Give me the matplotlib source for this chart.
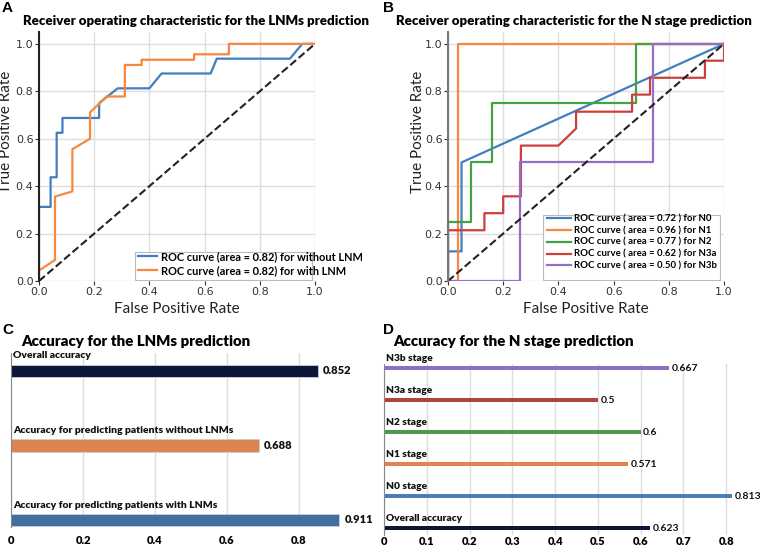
import matplotlib
matplotlib.use('Agg')
import matplotlib.pyplot as plt
from matplotlib.patches import Rectangle

# ---- panel A: ROC for LNMs prediction ----
fpr_without = [0, 0, 0.042, 0.042, 0.064, 0.064, 0.085, 0.085, 0.218, 0.218, 0.285, 0.40, 0.444, 0.622, 0.644, 0.909, 0.954, 1.0]
tpr_without = [0, 0.3125, 0.3125, 0.4375, 0.4375, 0.625, 0.625, 0.6875, 0.6875, 0.75, 0.8125, 0.8125, 0.875, 0.875, 0.9375, 0.9375, 1.0, 1.0]
fpr_with = [0, 0.058, 0.058, 0.121, 0.121, 0.185, 0.185, 0.245, 0.311, 0.311, 0.372, 0.372, 0.562, 0.562, 0.688, 0.688, 1.0]
tpr_with = [0.044, 0.089, 0.356, 0.378, 0.556, 0.60, 0.711, 0.778, 0.778, 0.911, 0.911, 0.933, 0.933, 0.956, 0.956, 1.0, 1.0]

# ---- panel B: ROC for N stage prediction ----
fpr_n0 = [0, 0, 0.049, 0.049, 1.0]
tpr_n0 = [0, 0.125, 0.125, 0.5, 1.0]
fpr_n1 = [0, 0.037, 0.037, 1.0]
tpr_n1 = [0, 0, 1.0, 1.0]
fpr_n2 = [0, 0, 0.082, 0.082, 0.16, 0.16, 0.68, 0.68, 1.0]
tpr_n2 = [0, 0.25, 0.25, 0.5, 0.5, 0.75, 0.75, 1.0, 1.0]
fpr_n3a = [0, 0, 0.132, 0.132, 0.2, 0.2, 0.264, 0.264, 0.40, 0.464, 0.464, 0.667, 0.667, 0.732, 0.732, 0.931, 0.931, 1.0, 1.0]
tpr_n3a = [0, 0.214, 0.214, 0.286, 0.286, 0.357, 0.357, 0.571, 0.571, 0.643, 0.714, 0.714, 0.786, 0.786, 0.857, 0.857, 0.929, 0.929, 1.0]
fpr_n3b = [0, 0.26, 0.26, 0.742, 0.742, 1.0]
tpr_n3b = [0, 0, 0.5, 0.5, 1.0, 1.0]
auc_b = [0.72, 0.96, 0.77, 0.62, 0.50]
stages_b = ['N0', 'N1', 'N2', 'N3a', 'N3b']

# ---- panel C: accuracy LNMs ----
acc_c_labels = ['Overall accuracy', 'Accuracy for predicting patients without LNMs', 'Accuracy for predicting patients with LNMs']
acc_c_values = [0.852, 0.688, 0.911]
acc_c_text = ['0.852', '0.688', '0.911']

# ---- panel D: accuracy N stage ----
acc_d_labels = ['N3b stage', 'N3a stage', 'N2 stage', 'N1 stage', 'N0 stage', 'Overall accuracy']
acc_d_values = [0.667, 0.5, 0.6, 0.571, 0.813, 0.623]
acc_d_text = ['0.667', '0.5', '0.6', '0.571', '0.813', '0.623']

W, H = 760, 549
fig = plt.figure(figsize=(W / 100, H / 100), dpi=100)

def px_axes(left, top, right, bottom):
    return fig.add_axes([left / W, 1 - bottom / H, (right - left) / W, (bottom - top) / H])

FONT = 'Lato'
GRID = '#dddddd'

def style_roc(ax, spine_color, ylab_x):
    ax.set_xlim(0, 1.0)
    ax.set_ylim(0, 1.05)
    ax.set_xticks([0, 0.2, 0.4, 0.6, 0.8, 1.0])
    ax.set_yticks([0, 0.2, 0.4, 0.6, 0.8, 1.0])
    ax.grid(True, color=GRID, lw=1)
    ax.set_axisbelow(True)
    for s in ['top', 'right', 'bottom']:
        ax.spines[s].set_visible(False)
    ax.spines['left'].set_color(spine_color)
    ax.spines['left'].set_linewidth(1.5)
    ax.tick_params(labelsize=8, length=3, width=0.8, colors='#333333', pad=1)
    ax.set_xlabel('False Positive Rate', family=FONT, fontsize=11, color='#222222', labelpad=4)
    ax.set_ylabel('True Positive Rate', family=FONT, fontsize=11, color='#222222')
    ax.yaxis.set_label_coords(ylab_x, 0.6)

def box_legend(ax, handles, x0, y0, size, hlen, box):
    # legend without frame, plus a separate box drawn like the reference
    ax.legend(handles=handles, loc='upper left', bbox_to_anchor=(x0, y0), frameon=False,
              prop={'family': FONT, 'weight': 'bold', 'size': size}, handlelength=hlen,
              handletextpad=0.35, borderpad=0, borderaxespad=0, labelspacing=0.3)
    bx0, by0, bx1, by1 = box
    ax.add_patch(Rectangle((bx0, by0), bx1 - bx0, by1 - by0, transform=ax.transAxes,
                           facecolor='white', edgecolor='#bbbbbb', lw=0.8, zorder=4))

# A
axA = px_axes(39, 32, 315, 281)
hA = []
hA += axA.plot(fpr_without, tpr_without, color='#3f7fbf', lw=1.6, label='ROC curve (area = 0.82) for without LNM')
hA += axA.plot(fpr_with, tpr_with, color='#f7883d', lw=1.6, label='ROC curve (area = 0.82) for with LNM')
axA.plot([0, 1], [0, 1], color='#222222', lw=1.5, ls='--')
style_roc(axA, '#222222', -0.094)
axA.set_title('Receiver operating characteristic for the LNMs prediction', family=FONT,
              weight='heavy', fontsize=9.5, pad=5, x=0.57)
box_legend(axA, hA, (138 - 39) / 276, (281 - 251) / 249, 7.9, 1.75,
           ((135 - 39) / 276, 0.003, (312 - 39) / 276, (281 - 252) / 249))

# B
axB = px_axes(448, 32, 724, 281)
colors_b = ['#3f7fbf', '#f7883d', '#44a244', '#cf3d3d', '#9370c8']
curves_b = [(fpr_n0, tpr_n0), (fpr_n1, tpr_n1), (fpr_n2, tpr_n2), (fpr_n3a, tpr_n3a), (fpr_n3b, tpr_n3b)]
hB = []
for (fx, ty), c, a, st in zip(curves_b, colors_b, auc_b, stages_b):
    hB += axB.plot(fx, ty, color=c, lw=1.6, label='ROC curve ( area = %.2f ) for %s' % (a, st))
axB.plot([0, 1], [0, 1], color='#222222', lw=1.5, ls='--')
style_roc(axB, '#777777', -0.083)
axB.set_title('Receiver operating characteristic for the N stage prediction', family=FONT,
              weight='heavy', fontsize=9.5, pad=5, x=0.457)
box_legend(axB, hB, (547 - 448) / 276, (281 - 214) / 249, 6.9, 2.5,
           ((543 - 448) / 276, 0.003, (720 - 448) / 276, (281 - 215) / 249))

# C
axC = px_axes(11, 353, 353, 527)
colors_c = ['#0b1638', '#dc844e', '#426f9e']
yc = list(range(len(acc_c_values)))
axC.barh(yc, acc_c_values, height=0.17, color=colors_c, edgecolor='#c8d0dc', lw=0.6)
for y, v, lab, t in zip(yc, acc_c_values, acc_c_labels, acc_c_text):
    axC.text(0.005, y - 0.2, lab, family=FONT, weight='heavy', fontsize=7.5, ha='left', va='center', color='#111111')
    axC.text(v + 0.015, y, t, family=FONT, weight='heavy', fontsize=8, ha='left', va='center', color='#111111')
axC.set_ylim(2.094, -0.24)
axC.set_xlim(0, 0.95)
axC.set_xticks([0, 0.2, 0.4, 0.6, 0.8])
axC.set_xticklabels(['0', '0.2', '0.4', '0.6', '0.8'], family=FONT, weight='heavy')
axC.set_yticks([])
axC.grid(True, axis='x', color=GRID, lw=1)
axC.set_axisbelow(True)
for s in ['top', 'right', 'bottom']:
    axC.spines[s].set_visible(False)
axC.spines['left'].set_color('#888888')
axC.tick_params(axis='x', length=0, labelsize=8, pad=6)
axC.set_title('Accuracy for the LNMs prediction', family=FONT, weight='heavy', fontsize=10.8, pad=5, x=0.365)

# D
axD = px_axes(384, 364, 739, 535)
colors_d = ['#8d6fc4', '#b5423f', '#4f9a4a', '#e0864a', '#4d7db5', '#0b1638']
yd = list(range(len(acc_d_values)))
axD.barh(yd, acc_d_values, height=0.14, color=colors_d)
for y, v, lab, t in zip(yd, acc_d_values, acc_d_labels, acc_d_text):
    axD.text(0.004, y - 0.3, lab, family=FONT, weight='heavy', fontsize=7.3, ha='left', va='center', color='#111111')
    axD.text(v + 0.006, y + 0.03, t, family=FONT, weight='bold', fontsize=7.5, ha='left', va='center', color='#111111')
axD.set_ylim(5.22, -0.12)
axD.set_xlim(0, 0.83)
axD.set_xticks([0, 0.1, 0.2, 0.3, 0.4, 0.5, 0.6, 0.7, 0.8])
axD.set_xticklabels(['0', '0.1', '0.2', '0.3', '0.4', '0.5', '0.6', '0.7', '0.8'], family=FONT, weight='heavy')
axD.set_yticks([])
axD.grid(True, axis='x', color=GRID, lw=1)
axD.set_axisbelow(True)
for s in ['top', 'right', 'bottom']:
    axD.spines[s].set_visible(False)
axD.spines['left'].set_color('#888888')
axD.tick_params(axis='x', length=0, labelsize=8, pad=1)
axD.set_title('Accuracy for the N stage prediction', family=FONT, weight='heavy', fontsize=10.8, pad=13, x=0.364)

# panel letters
for letter, x, y in [('A', 2, 8), ('B', 383, 8), ('C', 2, 330), ('D', 383, 330)]:
    fig.text(x / W, 1 - y / H, letter, family='Liberation Sans', weight='bold', fontsize=11, ha='left', va='center')

fig.savefig('out.png', dpi=100)
